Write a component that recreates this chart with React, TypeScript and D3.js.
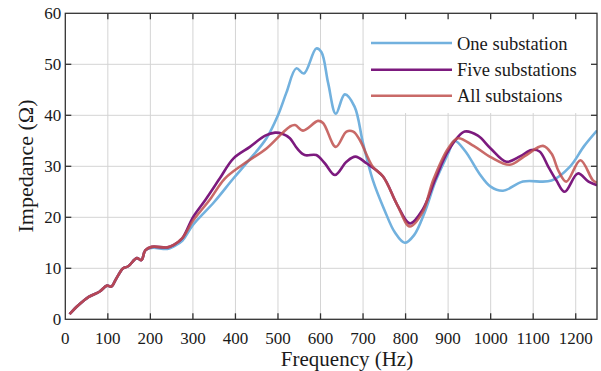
import React, { useEffect, useRef } from 'react';
import * as d3 from 'd3';

// frequencies (Hz) and impedance (ohm)
const oneFreq = [10, 30, 55, 80, 98, 108, 120, 136, 148, 168, 179, 188, 203, 240, 255, 275, 300, 350, 395, 430, 473, 500, 520, 543, 561, 590, 602, 618, 636, 657, 680, 700, 723, 750, 775, 798, 820, 845, 870, 900, 915, 940, 974, 1000, 1029, 1076, 1143, 1186, 1220, 1250];
const oneImp = [1.0, 2.7, 4.4, 5.4, 6.6, 6.4, 8.0, 10.0, 10.4, 12.0, 11.6, 13.5, 14.0, 13.8, 14.3, 15.4, 18.5, 23.0, 27.6, 31.0, 35.5, 40.0, 44.5, 49.2, 48.2, 53.1, 52.4, 46.3, 40.3, 44.1, 41.7, 34.5, 27.3, 21.5, 17.0, 15.0, 16.5, 21.0, 27.0, 32.5, 35.0, 33.0, 28.5, 26.0, 25.2, 27.0, 27.2, 29.9, 34.0, 37.0];

const fiveFreq = [10, 30, 55, 80, 98, 108, 120, 136, 148, 168, 179, 188, 203, 240, 255, 275, 300, 330, 363, 395, 434, 470, 493, 510, 528, 545, 563, 590, 610, 634, 661, 682, 708, 747, 780, 810, 840, 870, 900, 939, 970, 1000, 1037, 1070, 1096, 1115, 1135, 1154, 1174, 1205, 1230, 1250];
const fiveImp = [1.0, 2.7, 4.4, 5.4, 6.6, 6.4, 8.0, 10.0, 10.4, 12.0, 11.6, 13.5, 14.2, 14.1, 14.6, 15.9, 20.0, 23.5, 27.6, 31.5, 33.8, 36.0, 36.6, 36.4, 35.5, 33.5, 32.2, 32.2, 30.6, 28.3, 30.9, 31.9, 30.6, 28.0, 22.5, 18.8, 21.5, 27.5, 33.0, 36.8, 36.0, 33.5, 30.9, 32.0, 33.2, 32.9, 30.0, 27.3, 25.0, 28.6, 27.0, 26.3];

const allFreq = [10, 30, 55, 80, 98, 108, 120, 136, 148, 168, 179, 188, 203, 240, 255, 275, 300, 340, 375, 420, 473, 510, 528, 540, 559, 594, 606, 636, 661, 677, 692, 723, 747, 780, 810, 840, 865, 900, 923, 960, 1000, 1045, 1080, 1123, 1143, 1160, 1178, 1211, 1240, 1250];
const allImp = [1.0, 2.7, 4.4, 5.4, 6.6, 6.4, 8.0, 10.0, 10.4, 12.0, 11.6, 13.5, 14.2, 14.1, 14.6, 15.9, 19.3, 23.5, 27.6, 30.5, 33.5, 36.5, 37.8, 38.1, 37.0, 38.9, 38.5, 33.8, 36.8, 36.8, 35.2, 29.9, 28.0, 22.5, 18.2, 21.0, 27.3, 33.5, 35.5, 34.0, 31.8, 30.3, 32.0, 34.0, 32.5, 29.0, 27.0, 31.2, 27.3, 26.8];

const seriesNames = ['One substation', 'Five substations', 'All substaions'];
const seriesColors = ['#72b1de', '#7c1a7e', '#c0504d'];

const xTicks = [0, 100, 200, 300, 400, 500, 600, 700, 800, 900, 1000, 1100, 1200];
const yTicks = [0, 10, 20, 30, 40, 50, 60];

const FONT = '"Liberation Serif", "Times New Roman", serif';

const App = () => {
    const chartRef = useRef<SVGSVGElement>(null);

    useEffect(() => {
        const svg = d3.select(chartRef.current);
        svg.selectAll('*').remove();

        const left = 65.3, right = 597, top = 13.3, bottom = 319.3;

        const x = d3.scaleLinear().domain([0, 1250]).range([left, right]);
        const y = d3.scaleLinear().domain([0, 60]).range([bottom, top]);

        svg.append('rect').attr('width', 601).attr('height', 371).attr('fill', '#fff');

        // grid
        svg.append('g')
            .selectAll('line')
            .data(xTicks.filter(d => d > 0))
            .enter()
            .append('line')
            .attr('x1', d => x(d)).attr('x2', d => x(d))
            .attr('y1', top).attr('y2', bottom)
            .attr('stroke', '#d4d4d4').attr('stroke-width', 1);
        svg.append('g')
            .selectAll('line')
            .data(yTicks.filter(d => d > 0 && d < 60))
            .enter()
            .append('line')
            .attr('x1', left).attr('x2', right)
            .attr('y1', d => y(d)).attr('y2', d => y(d))
            .attr('stroke', '#d4d4d4').attr('stroke-width', 1);

        // curves
        svg.append('clipPath').attr('id', 'plot-clip')
            .append('rect').attr('x', left).attr('y', top)
            .attr('width', right - left).attr('height', bottom - top);

        const line = d3.line<[number, number]>()
            .x(d => x(d[0]))
            .y(d => y(d[1]))
            .curve(d3.curveCatmullRom.alpha(0.5));

        const series = [
            { f: oneFreq, v: oneImp, opacity: 1 },
            { f: fiveFreq, v: fiveImp, opacity: 1 },
            { f: allFreq, v: allImp, opacity: 0.85 },
        ];
        const curves = svg.append('g').attr('clip-path', 'url(#plot-clip)');
        series.forEach((s, i) => {
            curves.append('path')
                .attr('d', line(s.f.map((f, j) => [f, s.v[j]] as [number, number])))
                .attr('fill', 'none')
                .attr('stroke', seriesColors[i])
                .attr('stroke-width', 2.6)
                .attr('stroke-opacity', s.opacity)
                .attr('stroke-linejoin', 'round');
        });

        // legend (white box hides the grid)
        svg.append('rect')
            .attr('x', 364).attr('y', top)
            .attr('width', right - 364).attr('height', 113 - top)
            .attr('fill', '#fff');
        const legendY = [43, 69.7, 95.7];
        seriesNames.forEach((name, i) => {
            svg.append('line')
                .attr('x1', 371).attr('x2', 452)
                .attr('y1', legendY[i]).attr('y2', legendY[i])
                .attr('stroke', seriesColors[i])
                .attr('stroke-width', 2.6)
                .attr('stroke-opacity', series[i].opacity);
            svg.append('text')
                .attr('x', 457).attr('y', legendY[i])
                .attr('dy', '0.36em')
                .attr('font-family', FONT)
                .attr('font-size', 18.5)
                .attr('fill', '#1a1a1a')
                .text(name);
        });

        // frame and inward ticks
        svg.append('rect')
            .attr('x', left).attr('y', top)
            .attr('width', right - left).attr('height', bottom - top)
            .attr('fill', 'none').attr('stroke', '#333').attr('stroke-width', 1.3);

        const ticks = svg.append('g').attr('stroke', '#333').attr('stroke-width', 1.3);
        xTicks.filter(d => d > 0).forEach(d => {
            ticks.append('line').attr('x1', x(d)).attr('x2', x(d)).attr('y1', bottom).attr('y2', bottom - 6);
            ticks.append('line').attr('x1', x(d)).attr('x2', x(d)).attr('y1', top).attr('y2', top + 6);
        });
        yTicks.filter(d => d > 0 && d < 60).forEach(d => {
            ticks.append('line').attr('x1', left).attr('x2', left + 6).attr('y1', y(d)).attr('y2', y(d));
            ticks.append('line').attr('x1', right).attr('x2', right - 6).attr('y1', y(d)).attr('y2', y(d));
        });

        // tick labels
        svg.append('g')
            .selectAll('text')
            .data(xTicks)
            .enter()
            .append('text')
            .attr('x', d => x(d))
            .attr('y', 343.5)
            .attr('text-anchor', 'middle')
            .attr('font-family', FONT)
            .attr('font-size', 17)
            .attr('fill', '#1a1a1a')
            .text(d => d);
        svg.append('g')
            .selectAll('text')
            .data(yTicks)
            .enter()
            .append('text')
            .attr('x', left - 4)
            .attr('y', d => y(d))
            .attr('dy', '0.34em')
            .attr('text-anchor', 'end')
            .attr('font-family', FONT)
            .attr('font-size', 17)
            .attr('fill', '#1a1a1a')
            .text(d => d);

        // axis titles
        svg.append('text')
            .attr('x', 347).attr('y', 365.5)
            .attr('text-anchor', 'middle')
            .attr('font-family', FONT)
            .attr('font-size', 21)
            .attr('fill', '#1a1a1a')
            .text('Frequency (Hz)');
        svg.append('text')
            .attr('transform', `translate(33,166) rotate(-90)`)
            .attr('text-anchor', 'middle')
            .attr('font-family', FONT)
            .attr('font-size', 22)
            .attr('fill', '#1a1a1a')
            .text('Impedance (Ω)');
    }, []);

    return (
        <svg
            ref={chartRef}
            width={601}
            height={371}
            style={{ position: 'absolute', left: 0, top: 0, display: 'block' }}
        />
    );
};

export default App;
